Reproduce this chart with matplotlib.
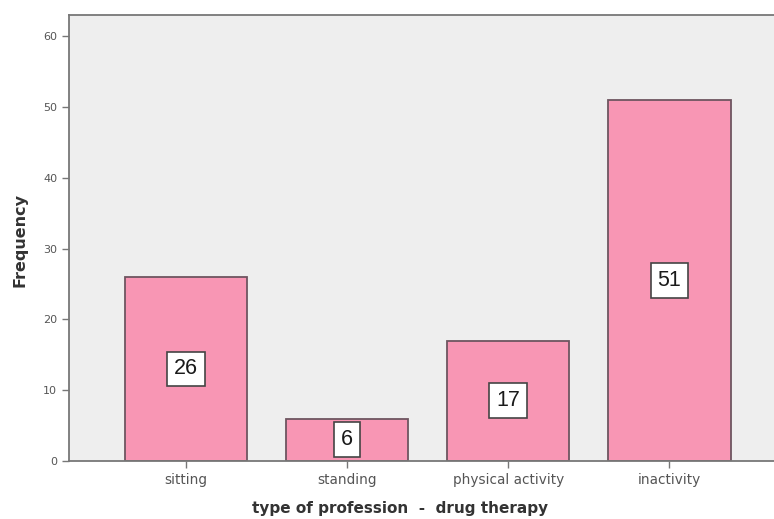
import matplotlib
matplotlib.use("Agg")
import matplotlib.pyplot as plt

categories = ["sitting", "standing", "physical activity", "inactivity"]
frequencies = [26, 6, 17, 51]
yticks = [0, 10, 20, 30, 40, 50, 60]

plt.rcParams['font.family'] = ['DejaVu Sans']

fig = plt.figure(figsize=(7.74, 5.19), dpi=100)
fig.patch.set_facecolor('white')
ax = fig.add_axes([0.0891, 0.1118, 0.9109, 0.8592])
ax.set_facecolor('#EEEEEE')

x = list(range(len(categories)))
ax.bar(x, frequencies, width=0.76, color='#F896B4', edgecolor='#6E5560', linewidth=1.3, zorder=2)

for xi, v in zip(x, frequencies):
    ax.text(xi, v / 2, str(v), ha='center', va='center', fontsize=15.5, color='#1a1a1a', zorder=3,
            family=['Liberation Sans'],
            bbox=dict(boxstyle='square,pad=0.32', facecolor='white', edgecolor='#444444', linewidth=1.2))

ax.set_xlim(-0.727, 3.65)
ax.set_ylim(0, 63)
ax.set_yticks(yticks)
ax.set_yticklabels([str(t) for t in yticks], fontsize=8, color='#555555')
ax.set_xticks(x)
ax.set_xticklabels(categories, fontsize=9.8, color='#555555')
ax.tick_params(axis='both', direction='out', length=5, width=1, color='#777777')
ax.tick_params(axis='x', pad=4)

for side in ['left', 'bottom', 'top']:
    ax.spines[side].set_color('#777777')
    ax.spines[side].set_linewidth(1.3)
ax.spines['right'].set_visible(False)

fig.text(20 / 774, 1 - 240 / 519, 'Frequency', rotation=90, ha='center', va='center',
         fontsize=11.5, fontweight='bold', color='#333333')
fig.text(400 / 774, 1 - 509 / 519, 'type of profession  -  drug therapy', ha='center', va='center',
         fontsize=11, fontweight='bold', color='#333333')

fig.savefig('out.png', dpi=100)
